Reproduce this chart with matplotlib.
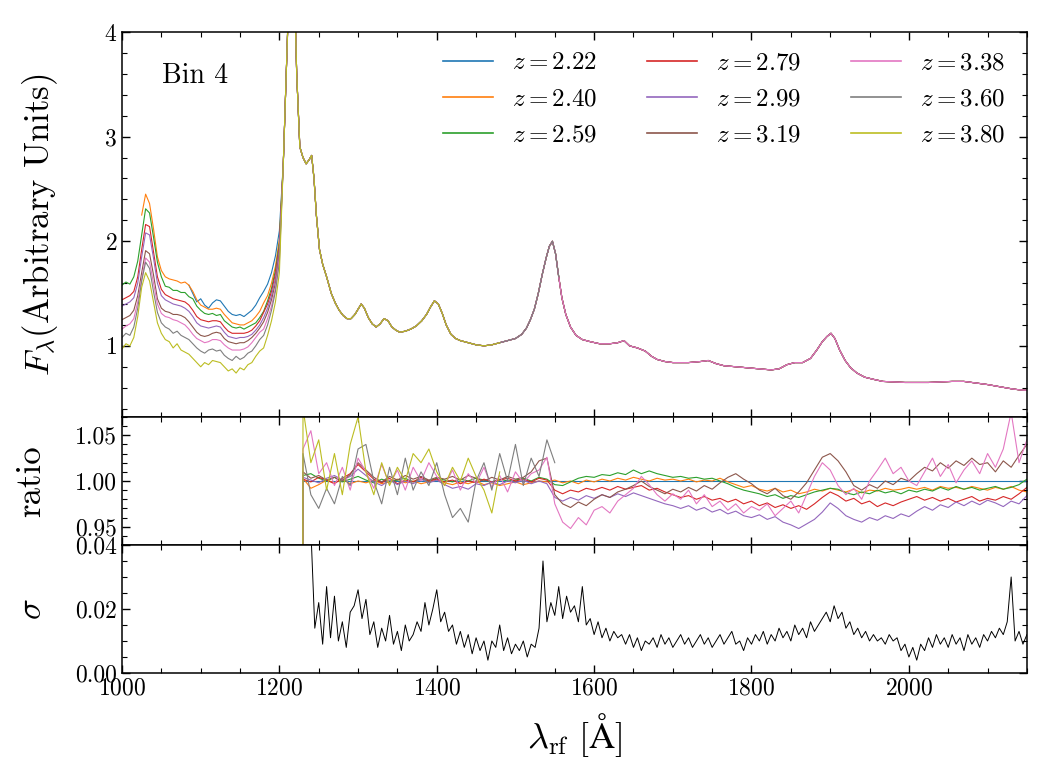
import numpy as np
import matplotlib
matplotlib.use("Agg")
import matplotlib.pyplot as plt
from matplotlib.ticker import MultipleLocator, FormatStrFormatter

plt.rcParams['font.family'] = 'serif'
plt.rcParams['font.serif'] = ['cmr10']
plt.rcParams['mathtext.fontset'] = 'cm'
plt.rcParams['axes.formatter.use_mathtext'] = True
plt.rcParams['axes.unicode_minus'] = False

# ---- data ----
z_labels = ['2.22', '2.40', '2.59', '2.79', '2.99', '3.19', '3.38', '3.60', '3.80']
colors = ['C0', 'C1', 'C2', 'C3', 'C4', 'C5', 'C6', 'C7', 'C8']

# blue side (1000-1200 A, 5 A steps); each series ends at 1200
wave_blue = np.arange(1000, 1201, 5)
blue_222 = [1.58, 1.50, 1.42, 1.45, 1.39, 1.36, 1.41, 1.44, 1.43, 1.38, 1.33, 1.30, 1.29, 1.30, 1.28,
            1.31, 1.34, 1.39, 1.46, 1.52, 1.59, 1.70, 1.86, 2.10]
blue_240 = [2.25, 2.45, 2.36, 2.12, 1.85, 1.72, 1.66, 1.64, 1.63, 1.62, 1.60, 1.61, 1.58, 1.52, 1.44,
            1.39, 1.37, 1.35, 1.35, 1.36, 1.35, 1.30, 1.26, 1.22, 1.21, 1.20, 1.20, 1.22, 1.24, 1.28,
            1.33, 1.41, 1.48, 1.60, 1.76, 2.02]
blue_259 = [1.58, 1.61, 1.59, 1.66, 1.81, 2.06, 2.31, 2.27, 2.04, 1.80, 1.66, 1.57, 1.56, 1.53, 1.53,
            1.51, 1.51, 1.47, 1.45, 1.38, 1.34, 1.31, 1.30, 1.31, 1.29, 1.30, 1.24, 1.21, 1.18, 1.17,
            1.18, 1.16, 1.18, 1.20, 1.22, 1.27, 1.33, 1.43, 1.55, 1.72, 1.98]
blue_279 = [1.44, 1.46, 1.48, 1.52, 1.66, 1.92, 2.16, 2.14, 1.90, 1.66, 1.54, 1.49, 1.47, 1.45, 1.44,
            1.43, 1.42, 1.39, 1.34, 1.28, 1.25, 1.24, 1.23, 1.24, 1.24, 1.23, 1.18, 1.14, 1.12, 1.12,
            1.12, 1.12, 1.13, 1.15, 1.19, 1.24, 1.32, 1.40, 1.52, 1.69, 1.95]
blue_299 = [1.38, 1.40, 1.42, 1.46, 1.60, 1.85, 2.08, 2.06, 1.84, 1.60, 1.48, 1.44, 1.42, 1.40, 1.39,
            1.38, 1.36, 1.33, 1.28, 1.22, 1.19, 1.18, 1.17, 1.18, 1.19, 1.18, 1.13, 1.09, 1.08, 1.07,
            1.08, 1.08, 1.09, 1.11, 1.15, 1.20, 1.27, 1.36, 1.48, 1.65, 1.92]
blue_319 = [1.25, 1.27, 1.29, 1.34, 1.48, 1.70, 1.91, 1.88, 1.68, 1.45, 1.36, 1.33, 1.32, 1.30, 1.30,
            1.29, 1.27, 1.23, 1.18, 1.13, 1.10, 1.09, 1.10, 1.12, 1.13, 1.12, 1.07, 1.04, 1.03, 1.02,
            1.03, 1.03, 1.05, 1.08, 1.12, 1.17, 1.23, 1.32, 1.44, 1.60, 1.88]
blue_338 = [1.16, 1.19, 1.21, 1.26, 1.42, 1.64, 1.84, 1.80, 1.60, 1.40, 1.31, 1.28, 1.27, 1.25, 1.24,
            1.22, 1.20, 1.16, 1.11, 1.07, 1.05, 1.03, 1.04, 1.06, 1.06, 1.05, 1.01, 0.98, 0.96, 0.96,
            0.96, 0.97, 0.99, 1.03, 1.08, 1.13, 1.16, 1.26, 1.38, 1.55, 1.84]
blue_360 = [1.08, 1.12, 1.10, 1.18, 1.36, 1.62, 1.80, 1.74, 1.52, 1.32, 1.22, 1.18, 1.16, 1.12, 1.14,
            1.10, 1.08, 1.06, 1.02, 0.98, 0.95, 0.93, 0.96, 0.97, 0.95, 0.96, 0.91, 0.88, 0.86, 0.90,
            0.87, 0.89, 0.93, 0.95, 1.00, 1.06, 1.10, 1.20, 1.34, 1.52, 1.80]
blue_380 = [0.97, 1.02, 1.00, 1.08, 1.28, 1.56, 1.70, 1.62, 1.42, 1.22, 1.12, 1.06, 1.04, 0.98, 1.02,
            0.96, 0.94, 0.92, 0.88, 0.84, 0.80, 0.84, 0.82, 0.86, 0.85, 0.84, 0.80, 0.76, 0.78, 0.74,
            0.79, 0.77, 0.82, 0.84, 0.90, 0.95, 0.98, 1.10, 1.24, 1.42, 1.70]
blue_sides = [blue_222, blue_240, blue_259, blue_279, blue_299, blue_319, blue_338, blue_360, blue_380]

# Lya peak, common to all
wave_peak = [1205, 1210, 1214, 1218, 1222, 1226]
flux_peak = [2.75, 3.9, 4.8, 4.8, 3.6, 2.9]

# red side, common to all
wave_red = [1230, 1234, 1238, 1241, 1244, 1247, 1251, 1255, 1260, 1266, 1271, 1276, 1281, 1286, 1291,
            1296, 1300, 1304, 1308, 1313, 1318, 1323, 1328, 1333, 1338, 1343, 1348, 1353, 1360, 1367,
            1374, 1381, 1387, 1392, 1397, 1402, 1407, 1412, 1418, 1424, 1430, 1440, 1450, 1460, 1470,
            1480, 1490, 1500, 1508, 1514, 1519, 1524, 1529, 1534, 1539, 1543, 1547, 1551, 1555, 1559,
            1564, 1570, 1577, 1585, 1595, 1607, 1620, 1630, 1638, 1645, 1655, 1665, 1673, 1680, 1690,
            1700, 1710, 1720, 1735, 1745, 1755, 1765, 1780, 1795, 1810, 1825, 1835, 1845, 1855, 1865,
            1875, 1883, 1890, 1896, 1901, 1906, 1912, 1919, 1926, 1934, 1944, 1955, 1967, 1980, 1995,
            2010, 2025, 2040, 2055, 2070, 2085, 2100, 2115, 2130, 2140, 2150]
flux_red = [2.80, 2.74, 2.78, 2.82, 2.60, 2.25, 1.92, 1.78, 1.66, 1.50, 1.41, 1.34, 1.29, 1.26, 1.26,
            1.30, 1.35, 1.40, 1.36, 1.27, 1.21, 1.18, 1.21, 1.26, 1.24, 1.18, 1.15, 1.13, 1.14, 1.16,
            1.19, 1.24, 1.30, 1.37, 1.43, 1.40, 1.31, 1.20, 1.11, 1.07, 1.05, 1.03, 1.01, 1.00, 1.01,
            1.03, 1.05, 1.07, 1.11, 1.17, 1.25, 1.35, 1.50, 1.68, 1.84, 1.95, 2.00, 1.88, 1.66, 1.46,
            1.30, 1.18, 1.10, 1.06, 1.04, 1.02, 1.02, 1.03, 1.05, 1.00, 0.98, 0.95, 0.90, 0.87, 0.85,
            0.84, 0.84, 0.84, 0.85, 0.86, 0.83, 0.81, 0.80, 0.79, 0.78, 0.77, 0.78, 0.82, 0.84, 0.84,
            0.88, 0.96, 1.04, 1.09, 1.12, 1.07, 0.96, 0.86, 0.79, 0.74, 0.70, 0.68, 0.66, 0.655, 0.65,
            0.65, 0.65, 0.655, 0.66, 0.66, 0.645, 0.63, 0.61, 0.59, 0.58, 0.575]
red_end = [2150, 2150, 2150, 2150, 2150, 2150, 2150, 1555, 1480]

# ratio to z=2.22 (10 A steps from 1230)
ratio_wave = np.arange(1230, 2151, 10)
ratio_edge = (1229.0, 0.0)
ratio_240 = [1.003, 0.992, 0.996, 1.001, 0.998, 1.002, 0.997, 1.000,
             0.998, 1.001, 0.997, 0.999, 1.002, 0.998, 1.000, 0.997, 0.999, 1.001,
             0.998, 0.996, 0.999, 0.997, 1.000, 0.996, 0.998, 0.995, 0.997, 0.999,
             0.996, 0.998, 1.000, 0.999, 1.001, 0.998, 1.000, 0.997, 1.001, 0.999,
             1.002, 1.000, 1.003, 1.001, 1.004, 1.002, 1.000, 1.003, 1.001, 1.002,
             1.000, 1.002, 0.999, 1.001, 1.000, 1.003, 0.999, 0.996, 0.993, 0.995,
             0.991, 0.989, 0.992, 0.988, 0.990, 0.986, 0.988, 0.991, 0.989, 0.992,
             0.990, 0.988, 0.991, 0.987, 0.990, 0.989, 0.992, 0.990, 0.991, 0.993,
             0.991, 0.993, 0.990, 0.994, 0.992, 0.993, 0.991, 0.994, 0.992, 0.990,
             0.993, 0.991, 0.994, 0.990, 0.988]
ratio_259 = [1.006, 1.008, 1.003, 1.000, 1.004, 0.999, 1.002, 1.005,
             1.001, 0.998, 1.002, 0.999, 1.001, 1.003, 0.999, 1.002, 1.000, 1.003,
             1.001, 0.999, 1.002, 1.000, 1.003, 1.001, 0.999, 1.002, 1.000, 1.001,
             1.003, 1.000, 1.004, 1.002, 0.996, 0.995, 0.999, 1.003, 1.005, 1.004,
             1.007, 1.006, 1.009, 1.007, 1.012, 1.008, 1.011, 1.008, 1.006, 1.004,
             1.005, 1.003, 1.004, 1.002, 1.003, 1.000, 0.997, 0.993, 0.990, 0.988,
             0.986, 0.983, 0.985, 0.981, 0.984, 0.982, 0.985, 0.988, 0.990, 0.992,
             0.991, 0.987, 0.985, 0.988, 0.986, 0.990, 0.987, 0.989, 0.986, 0.990,
             0.988, 0.991, 0.989, 0.993, 0.990, 0.994, 0.991, 0.993, 0.990, 0.992,
             0.994, 0.991, 0.993, 0.996, 1.002]
ratio_279 = [1.002, 0.999, 1.004, 1.001, 0.997, 1.003, 1.008, 1.018,
             1.010, 1.002, 0.998, 1.003, 0.997, 1.001, 0.999, 1.004, 1.000, 1.002,
             0.999, 1.001, 0.997, 1.000, 0.998, 1.002, 0.999, 1.001, 1.003, 1.000,
             1.002, 0.999, 1.003, 1.001, 0.990, 0.986, 0.990, 0.988, 0.992, 0.990,
             0.993, 0.990, 0.994, 0.991, 0.993, 0.995, 0.990, 0.992, 0.988, 0.985,
             0.982, 0.984, 0.980, 0.983, 0.979, 0.981, 0.977, 0.980, 0.975, 0.978,
             0.973, 0.976, 0.971, 0.974, 0.970, 0.973, 0.969, 0.975, 0.982, 0.988,
             0.984, 0.978, 0.981, 0.975, 0.978, 0.972, 0.976, 0.973, 0.977, 0.980,
             0.983, 0.979, 0.982, 0.978, 0.981, 0.977, 0.980, 0.983, 0.978, 0.981,
             0.979, 0.983, 0.980, 0.986, 0.993]
ratio_299 = [1.004, 1.001, 0.998, 1.003, 1.006, 1.001, 1.005, 1.013,
             1.006, 0.999, 0.995, 1.001, 0.996, 1.000, 0.997, 1.002, 0.998, 1.001,
             0.996, 0.992, 0.994, 0.991, 0.997, 0.995, 0.999, 0.996, 1.000, 0.998,
             1.001, 0.997, 1.000, 0.997, 0.982, 0.978, 0.982, 0.979, 0.984, 0.981,
             0.985, 0.982, 0.986, 0.983, 0.987, 0.984, 0.981, 0.978, 0.975, 0.973,
             0.970, 0.973, 0.968, 0.971, 0.966, 0.969, 0.964, 0.967, 0.962, 0.960,
             0.963, 0.958, 0.961, 0.955, 0.952, 0.948, 0.953, 0.958, 0.966, 0.976,
             0.970, 0.962, 0.958, 0.955, 0.960, 0.957, 0.962, 0.959, 0.964, 0.961,
             0.967, 0.972, 0.968, 0.974, 0.971, 0.977, 0.973, 0.978, 0.974, 0.979,
             0.976, 0.972, 0.978, 0.975, 0.984]
ratio_319 = [1.010, 1.003, 1.006, 1.001, 1.004, 1.000, 1.007, 1.020,
             1.012, 1.004, 0.999, 1.005, 1.001, 1.006, 1.002, 1.005, 1.001, 1.004,
             1.002, 1.005, 1.001, 1.006, 1.003, 1.000, 1.004, 1.001, 1.005, 1.002,
             1.004, 1.010, 1.022, 1.025, 0.985, 0.975, 0.971, 0.977, 0.973, 0.980,
             0.985, 0.982, 0.988, 0.991, 0.995, 1.000, 0.994, 0.990, 0.986, 0.991,
             0.988, 0.993, 0.989, 0.995, 0.991, 0.998, 1.004, 1.008, 1.002, 0.997,
             0.990, 0.986, 0.992, 0.984, 0.980, 0.988, 0.998, 1.012, 1.026, 1.030,
             1.022, 1.010, 0.995, 0.990, 0.996, 0.992, 1.000, 0.996, 1.003, 1.000,
             1.008, 1.015, 1.011, 1.020, 1.014, 1.022, 1.017, 1.025, 1.018, 1.020,
             1.010, 1.022, 1.015, 1.028, 1.040]
ratio_338 = [1.035, 1.055, 1.008, 1.020, 0.995, 1.015, 0.990, 1.025,
             1.010, 0.992, 1.018, 0.996, 1.012, 0.990, 1.015, 1.000, 1.020, 1.005,
             0.995, 1.012, 0.990, 1.008, 0.997, 1.015, 0.993, 1.006, 0.988, 1.010,
             0.998, 1.008, 1.012, 1.026, 0.975, 0.955, 0.948, 0.960, 0.952, 0.968,
             0.972, 0.965, 0.978, 0.985, 0.992, 1.005, 0.996, 0.985, 0.978, 0.986,
             0.980, 0.990, 0.975, 0.985, 0.972, 0.978, 0.968, 0.975, 0.965, 0.972,
             0.968, 0.975, 0.962, 0.970, 0.978, 0.965, 0.985, 1.005, 1.020, 1.012,
             0.995, 0.985, 0.992, 0.980, 1.000, 1.012, 1.025, 1.008, 1.015, 1.000,
             0.995, 1.010, 1.025, 1.005, 1.018, 0.998, 1.012, 1.022, 1.008, 1.030,
             1.015, 1.035, 1.075, 1.020, 1.045]
ratio_360 = [1.030, 0.985, 0.970, 0.992, 0.975, 1.005, 0.995, 1.035,
             1.040, 1.000, 0.975, 1.015, 0.985, 1.025, 0.990, 1.010, 0.995, 1.020,
             0.985, 0.960, 0.970, 0.955, 1.000, 1.020, 0.990, 1.030, 1.000, 1.040,
             0.995, 1.025, 1.005, 1.045, 1.020]
ratio_380 = [1.080, 1.020, 1.045, 0.990, 1.030, 0.985, 1.040, 1.070,
             1.010, 0.985, 1.020, 0.995, 1.015, 1.000, 1.030, 1.020, 1.035, 1.010,
             0.995, 1.015, 1.000, 1.025, 1.005, 0.990, 0.965, 1.010]
ratios = [ratio_240, ratio_259, ratio_279, ratio_299, ratio_319, ratio_338, ratio_360, ratio_380]
ratio_222 = [1.0] * len(ratio_wave)

# dispersion sigma (5 A steps from 1235)
sigma = [0.080, 0.045, 0.014, 0.022, 0.009, 0.027, 0.011, 0.024, 0.010, 0.016,
         0.008, 0.019, 0.021, 0.026, 0.017, 0.023, 0.012, 0.016, 0.008, 0.014,
         0.010, 0.018, 0.009, 0.013, 0.007, 0.015, 0.010, 0.012, 0.016, 0.013,
         0.022, 0.015, 0.020, 0.026, 0.016, 0.019, 0.013, 0.015, 0.009, 0.013,
         0.008, 0.012, 0.006, 0.011, 0.007, 0.010, 0.004, 0.010, 0.008, 0.015,
         0.007, 0.011, 0.006, 0.009, 0.007, 0.010, 0.005, 0.009, 0.008, 0.014,
         0.035, 0.016, 0.022, 0.018, 0.027, 0.017, 0.024, 0.019, 0.021, 0.016,
         0.027, 0.015, 0.017, 0.012, 0.016, 0.011, 0.014, 0.010, 0.013, 0.011,
         0.012, 0.009, 0.012, 0.008, 0.011, 0.007, 0.010, 0.009, 0.011, 0.008,
         0.012, 0.009, 0.011, 0.008, 0.010, 0.012, 0.009, 0.011, 0.008, 0.010,
         0.012, 0.009, 0.011, 0.008, 0.010, 0.012, 0.009, 0.011, 0.013, 0.009,
         0.010, 0.007, 0.011, 0.009, 0.012, 0.010, 0.013, 0.009, 0.012, 0.010,
         0.014, 0.011, 0.013, 0.010, 0.015, 0.012, 0.014, 0.011, 0.016, 0.013,
         0.015, 0.017, 0.019, 0.016, 0.021, 0.017, 0.019, 0.014, 0.016, 0.012,
         0.014, 0.011, 0.013, 0.010, 0.012, 0.010, 0.011, 0.009, 0.012, 0.010,
         0.011, 0.007, 0.009, 0.005, 0.008, 0.004, 0.009, 0.007, 0.011, 0.008,
         0.012, 0.009, 0.011, 0.008, 0.012, 0.009, 0.011, 0.007, 0.012, 0.009,
         0.011, 0.008, 0.012, 0.010, 0.013, 0.011, 0.014, 0.012, 0.016, 0.030,
         0.010, 0.013, 0.009, 0.012]
sigma_wave = np.linspace(1235, 2150, len(sigma))

# ---- figure ----
fig = plt.figure(figsize=(10.5, 7.8), dpi=100)
L, W = 0.1162, 0.8618
ax1 = fig.add_axes([L, 0.4654, W, 0.4936])
ax2 = fig.add_axes([L, 0.3013, W, 0.1641], sharex=ax1)
ax3 = fig.add_axes([L, 0.1372, W, 0.1641], sharex=ax1)

wave_red = np.array(wave_red)
flux_red = np.array(flux_red)
for i in range(9):
    vals = blue_sides[i]
    keep = wave_red <= red_end[i]
    x = np.concatenate([wave_blue[-len(vals):], wave_peak, wave_red[keep]])
    y = np.concatenate([vals, flux_peak, flux_red[keep]])
    ax1.plot(x, y, color=colors[i], lw=0.8, label=r'$z = %s$' % z_labels[i])

ax2.plot(ratio_wave, ratio_222, color=colors[0], lw=0.8)
for i, r in enumerate(ratios):
    x = np.concatenate([[ratio_edge[0]], ratio_wave[:len(r)]])
    y = np.concatenate([[ratio_edge[1]], r])
    ax2.plot(x, y, color=colors[i + 1], lw=0.8)

ax3.plot(sigma_wave, sigma, color='k', lw=0.7)

ax1.set_xlim(1000, 2150)
ax1.set_ylim(0.32, 4.0)
ax2.set_ylim(0.93, 1.07)
ax3.set_ylim(0.0, 0.04)

for ax in (ax1, ax2, ax3):
    ax.tick_params(which='both', direction='in', top=True, right=True, labelsize=17)
    ax.tick_params(which='major', length=6, width=1)
    ax.tick_params(which='minor', length=3.5, width=0.8)
    ax.xaxis.set_major_locator(MultipleLocator(200))
    ax.xaxis.set_minor_locator(MultipleLocator(50))
    for s in ax.spines.values():
        s.set_linewidth(1.1)

ax1.yaxis.set_major_locator(MultipleLocator(1))
ax1.yaxis.set_minor_locator(MultipleLocator(0.2))
ax2.yaxis.set_major_locator(MultipleLocator(0.05))
ax2.yaxis.set_minor_locator(MultipleLocator(0.01))
ax2.yaxis.set_major_formatter(FormatStrFormatter('%.2f'))
ax3.yaxis.set_major_locator(MultipleLocator(0.02))
ax3.yaxis.set_minor_locator(MultipleLocator(0.005))
ax3.yaxis.set_major_formatter(FormatStrFormatter('%.2f'))
ax1.tick_params(labelbottom=False)
ax2.tick_params(labelbottom=False)

ax1.set_ylabel(r'$F_\lambda$(Arbitrary Units)', fontsize=25)
ax2.set_ylabel('ratio', fontsize=25)
ax3.set_ylabel(r'$\sigma$', fontsize=25)
ax3.set_xlabel(r'$\lambda_{\rm rf}\ [\mathrm{\AA}]$', fontsize=26, labelpad=8)
ax1.yaxis.set_label_coords(-0.068, 0.5)
ax2.yaxis.set_label_coords(-0.083, 0.5)
ax3.yaxis.set_label_coords(-0.082, 0.5)

ax1.text(0.044, 0.886, 'Bin 4', transform=ax1.transAxes, fontsize=20, va='center')
leg = ax1.legend(loc='upper right', ncol=3, frameon=False, fontsize=18,
                 handlelength=2.0, handletextpad=0.75, columnspacing=2.0, labelspacing=0.55,
                 bbox_to_anchor=(0.998, 1.0), borderaxespad=0.4)
for h in leg.get_lines():
    h.set_linewidth(1.2)

fig.savefig('out.png', dpi=100)
